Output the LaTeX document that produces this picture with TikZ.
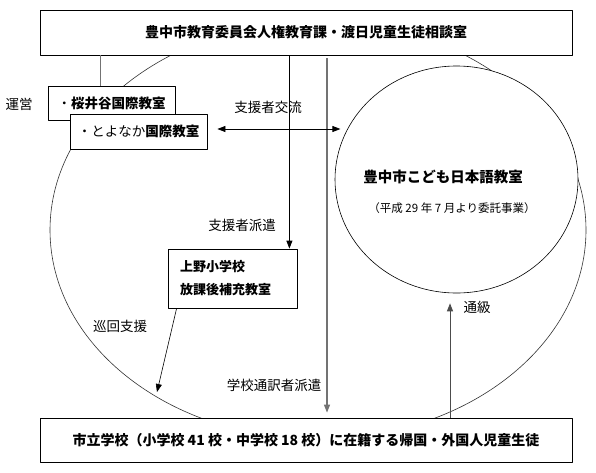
\documentclass[tikz,border=0pt]{standalone}
\usepackage{fontspec}
\setmainfont{Noto Sans CJK JP}
\usetikzlibrary{arrows.meta,shapes.geometric}

\begin{document}
\begin{tikzpicture}[x=1pt, y=-1pt, line width=0.8pt, line join=round,
  box/.style={draw, fill=white, inner sep=0pt, font=\fontsize{14}{16}\selectfont\bfseries},
  lbl/.style={inner sep=0pt, font=\fontsize{13.5}{16}\selectfont},
  arr/.style={-{Triangle[length=8pt,width=6pt]}}]

  %% ════ 外側の大きな楕円 ════
  \draw[line width=0.6pt, black!80] (318,230) ellipse [x radius=268, y radius=209];

  %% ════ 箱 ════
  \node[box, minimum width=532, minimum height=45] (soudan) at (306,32.5) {豊中市教育委員会人権教育課・渡日児童生徒相談室};
  \node[box, minimum width=532, minimum height=44] (gakkou) at (306,440) {市立学校（小学校 41 校・中学校 18 校）に在籍する帰国・外国人児童生徒};
  \node[box, font=\fontsize{13.5}{16}\selectfont, minimum width=127, minimum height=34] (sakurai) at (111.5,103) {・\textbf{桜井谷国際教室}};
  \node[box, font=\fontsize{13.5}{16}\selectfont, minimum width=137, minimum height=35] (toyonaka) at (138.5,131.5) {・とよなか\textbf{国際教室}};
  \node[box, font=\fontsize{13}{23}\selectfont\bfseries, minimum width=129, minimum height=59, text width=105, align=left] (ueno) at (232.5,278.5) {上野小学校\\放課後補充教室};

  %% ════ こども日本語教室（円）════
  \node[draw, ellipse, fill=white, line width=0.6pt, minimum width=243, minimum height=227, inner sep=0pt] (kodomo) at (456.5,179.5) {};
  \node[inner sep=0pt, font=\fontsize{14.5}{16}\selectfont\bfseries] (kodomoname) at (443,177) {豊中市こども日本語教室};
  \node[inner sep=0pt, font=\fontsize{11.5}{14}\selectfont] (kodomonote) at (452,208) {（平成 29 年 7 月より委託事業）};

  %% ════ 線・矢印 ════
  \coordinate (unei) at ([xshift=53pt]sakurai.north west);
  \draw[black!55, line width=1.2pt] (unei |- soudan.south) -- (unei);

  \coordinate (hakenTop) at ([xshift=-8pt]ueno.north east);
  \draw[arr] (hakenTop |- soudan.south) -- (hakenTop);

  \coordinate (tsuyaku) at (327,58);
  \draw[arr, black!55, line width=1.2pt, shorten >=5pt] (tsuyaku) -- (tsuyaku |- gakkou.north);

  \coordinate (tsukyu) at ([xshift=-6.5pt]kodomo.south);
  \draw[arr, black!70, line width=1pt, shorten >=10pt] (tsukyu |- gakkou.north) -- (tsukyu);

  \coordinate (junkai) at (157,392);
  \draw[arr, line width=0.6pt] ([xshift=9pt]ueno.south west) -- (junkai);

  \draw[{Triangle[length=8pt,width=6pt]}-{Triangle[length=8pt,width=6pt]}] ([shift={(10pt,2.5pt)}]toyonaka.east) -- ++(123,0);

  %% ════ ラベル ════
  \node[lbl] (l-unei)    at (19,104)  {運営};
  \node[lbl] (l-kouryu)  at (268,107) {支援者交流};
  \node[lbl] (l-haken)   at (242,225) {支援者派遣};
  \node[lbl] (l-junkai)  at (120,326) {巡回支援};
  \node[lbl] (l-tsuyaku) at (274,385) {学校通訳者派遣};
  \node[lbl] (l-tsukyu)  at (477,307) {通級};

  % 画面サイズを固定
  \pgfresetboundingbox
  \path[use as bounding box] (0,0) rectangle (596,472);
\end{tikzpicture}
\end{document}
